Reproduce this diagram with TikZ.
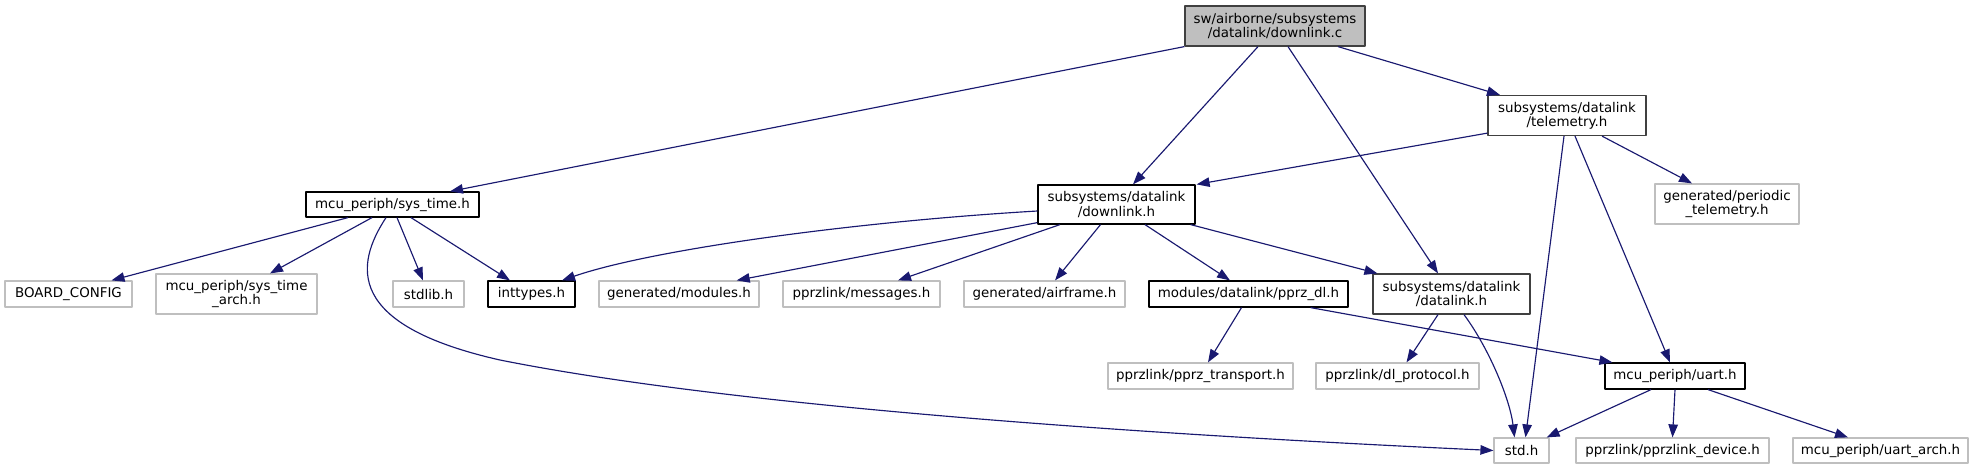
\documentclass[tikz,border=0pt]{standalone}
\usepackage{fontspec}
\setsansfont{DejaVu Sans}
\usetikzlibrary{arrows.meta}

\definecolor{midnightblue}{HTML}{191970}
\definecolor{darkframe}{HTML}{404040}
\definecolor{lightframe}{HTML}{BFBFBF}

\begin{document}
\begin{tikzpicture}[
		x=1pt, y=-1pt,
		line join=round,
		font=\sffamily,
		file/.style={draw, rectangle, fill=white, inner sep=0pt, align=center,
			minimum height=26pt, line width=1.2pt,
			font=\sffamily\fontsize{13.4}{14.3}\selectfont},
		doc/.style={file, draw=black},
		docgray/.style={file, draw=darkframe},
		undoc/.style={file, draw=lightframe},
		tall/.style={minimum height=40pt},
		dep/.style={-{Triangle[length=13pt, width=9.5pt]}, draw=midnightblue, line width=1.15pt}
	]
	
	\useasboundingbox (0,0) rectangle (1973,469);
	
	% Level 0
	\node[docgray, tall, fill=lightframe, minimum width=180pt] (root) at (1275,26) {sw/airborne/subsystems\\/datalink/downlink.c};
	
	% Level 1
	\node[docgray, tall, minimum width=158pt] (telemetry) at (1567,115.5) {subsystems/datalink\\/telemetry.h};
	
	% Level 2
	\node[doc, minimum width=173pt, minimum height=25pt] (systime) at (392.5,204.5) {mcu\_periph/sys\_time.h};
	\node[doc, tall, minimum width=157pt, minimum height=39pt] (downlink) at (1116.5,204.5) {subsystems/datalink\\/downlink.h};
	\node[undoc, tall, minimum width=144pt] (periodic) at (1727,204) {generated/periodic\\\_telemetry.h};
	
	% Level 3
	\node[undoc, minimum width=127pt] (board) at (68.5,294) {BOARD\_CONFIG};
	\node[undoc, tall, minimum width=161pt] (systimearch) at (236.5,294) {mcu\_periph/sys\_time\\\_arch.h};
	\node[undoc, minimum width=71pt] (stdlib) at (428.5,294) {stdlib.h};
	\node[doc, minimum width=87pt] (inttypes) at (531.5,294) {inttypes.h};
	\node[undoc, minimum width=160pt] (modules) at (679,294) {generated/modules.h};
	\node[undoc, minimum width=157pt] (messages) at (861.5,294) {pprzlink/messages.h};
	\node[undoc, minimum width=161pt] (airframe) at (1044.5,294) {generated/airframe.h};
	\node[doc, minimum width=199pt] (pprzdl) at (1248.5,294) {modules/datalink/pprz\_dl.h};
	\node[docgray, tall, minimum width=157pt] (datalink) at (1451.5,294) {subsystems/datalink\\/datalink.h};
	
	% Level 4
	\node[undoc, minimum width=185pt] (transport) at (1200.5,376) {pprzlink/pprz\_transport.h};
	\node[undoc, minimum width=163pt] (dlprotocol) at (1397.5,376) {pprzlink/dl\_protocol.h};
	\node[doc, minimum width=140pt] (uart) at (1675,376) {mcu\_periph/uart.h};
	
	% Level 5
	\node[undoc, minimum width=55pt, minimum height=25pt] (stdh) at (1521.5,450.5) {std.h};
	\node[undoc, minimum width=193pt, minimum height=25pt] (device) at (1672.5,450.5) {pprzlink/pprzlink\_device.h};
	\node[undoc, minimum width=175pt, minimum height=25pt] (uartarch) at (1880.5,450.5) {mcu\_periph/uart\_arch.h};
	
	% Edges from downlink.c
	\draw[dep] (root.south west) -- ([xshift=57.5pt]systime.north);
	\draw[dep] ([xshift=-17pt]root.south) -- ([xshift=16.5pt]downlink.north);
	\draw[dep] ([xshift=13pt]root.south) -- ([xshift=-13.5pt]datalink.north);
	\draw[dep] ([xshift=63pt]root.south) -- ([xshift=-67pt]telemetry.north);
	
	% Edges from telemetry.h
	\draw[dep] ([yshift=3pt]telemetry.south west) -- ([xshift=1pt]downlink.north east);
	\draw[dep] ([xshift=-3pt]telemetry.south) -- ([xshift=4pt]stdh.north);
	\draw[dep] ([xshift=8pt]telemetry.south) -- ([xshift=-5pt]uart.north);
	\draw[dep] ([xshift=35pt]telemetry.south) -- ([xshift=-35pt]periodic.north);
	
	% Edges from sys_time.h
	\draw[dep] ([xshift=-44.5pt]systime.south) -- ([xshift=43pt]board.north);
	\draw[dep] ([xshift=-20.5pt]systime.south) -- ([xshift=33.5pt]systimearch.north);
	\draw[dep] ([xshift=-6.5pt]systime.south) .. controls (355,265) and (345,325) .. (500,360)
		.. controls (700,400) and (1050,430) .. (stdh.west);
	\draw[dep] ([xshift=4.5pt]systime.south) -- ([xshift=-5.5pt]stdlib.north);
	\draw[dep] ([xshift=18.5pt]systime.south) -- ([xshift=-21.5pt]inttypes.north);
	
	% Edges from downlink.h
	\draw[dep] ([yshift=-6.5pt]downlink.west) .. controls (850,222) and (650,250) .. ([xshift=30.5pt]inttypes.north);
	\draw[dep] ([yshift=2pt]downlink.south west) -- ([xshift=57.7pt]modules.north);
	\draw[dep] ([xshift=-56.5pt]downlink.south) -- ([xshift=36.5pt]messages.north);
	\draw[dep] ([xshift=-16pt]downlink.south) -- ([xshift=10.5pt]airframe.north);
	\draw[dep] ([xshift=28.5pt]downlink.south) -- ([xshift=-18.5pt]pprzdl.north);
	\draw[dep] ([xshift=-5pt]downlink.south east) -- ([xshift=5pt]datalink.north west);
	
	% Edges from pprz_dl.h and datalink.h
	\draw[dep] ([xshift=-7pt]pprzdl.south) -- ([xshift=7.5pt]transport.north);
	\draw[dep] ([xshift=-38pt]pprzdl.south east) -- ([xshift=8pt]uart.north west);
	\draw[dep] ([xshift=-13.5pt]datalink.south) -- ([xshift=9pt]dlprotocol.north);
	\draw[dep] ([xshift=12.5pt]datalink.south) .. controls (1490,350) and (1510,400) .. ([xshift=-7pt]stdh.north);
	
	% Edges from uart.h
	\draw[dep] ([xshift=-24pt]uart.south) -- ([xshift=-3pt]stdh.north east);
	\draw[dep] (uart.south) -- (device.north);
	\draw[dep] ([xshift=33pt]uart.south) -- ([xshift=-32.5pt]uartarch.north);
	
\end{tikzpicture}
\end{document}
